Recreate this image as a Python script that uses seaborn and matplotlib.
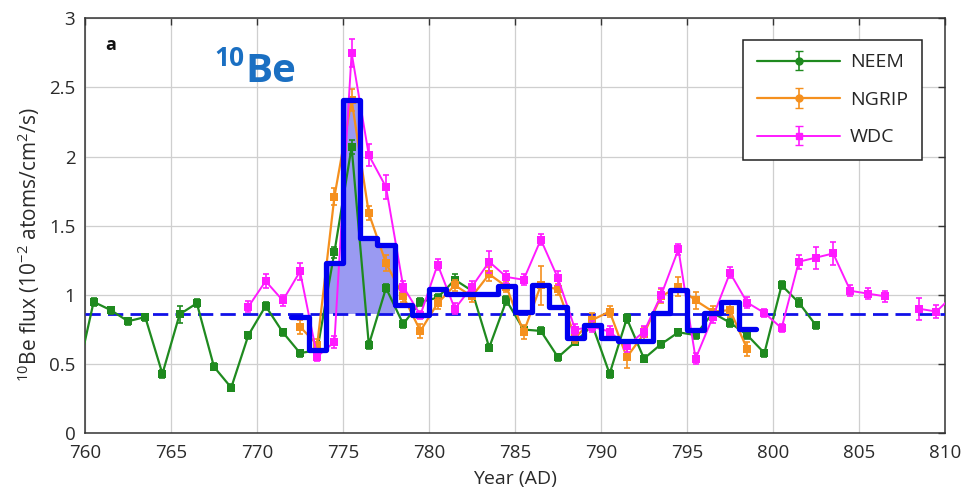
import numpy as np
import pandas as pd
import matplotlib
matplotlib.use("Agg")
import matplotlib.pyplot as plt
import seaborn as sns

# ---------------- data ----------------
neem_years = [759.5, 760.5, 761.5, 762.5, 763.5, 764.5, 765.5, 766.5, 767.5, 768.5, 769.5,
              770.5, 771.5, 772.5, 773.5, 774.5, 775.5, 776.5, 777.5, 778.5, 779.5,
              780.5, 781.5, 782.5, 783.5, 784.5, 785.5, 786.5, 787.5, 788.5, 789.5,
              790.5, 791.5, 792.5, 793.5, 794.5, 795.5, 796.5, 797.5, 798.5, 799.5,
              800.5, 801.5, 802.5]
neem_flux = [0.39, 0.95, 0.89, 0.81, 0.84, 0.43, 0.86, 0.94, 0.48, 0.33, 0.71,
             0.92, 0.73, 0.58, 0.60, 1.31, 2.07, 0.64, 1.05, 0.79, 0.95,
             0.98, 1.11, 1.03, 0.62, 0.96, 0.75, 0.74, 0.55, 0.66, 0.78,
             0.43, 0.83, 0.54, 0.645, 0.73, 0.71, 0.87, 0.80, 0.71, 0.58,
             1.07, 0.945, 0.78]
neem_err = [0.03, 0.03, 0.025, 0.025, 0.025, 0.03, 0.06, 0.03, 0.025, 0.025, 0.025,
            0.03, 0.025, 0.025, 0.025, 0.04, 0.05, 0.03, 0.03, 0.03, 0.03,
            0.03, 0.04, 0.03, 0.025, 0.03, 0.025, 0.025, 0.025, 0.025, 0.03,
            0.03, 0.03, 0.025, 0.025, 0.025, 0.025, 0.03, 0.03, 0.025, 0.025,
            0.03, 0.03, 0.025]

ngrip_years = [772.5, 773.5, 774.5, 775.5, 776.5, 777.5, 778.5, 779.5, 780.5, 781.5,
               782.5, 783.5, 784.5, 785.5, 786.5, 787.5, 788.5, 789.5, 790.5, 791.5,
               792.5, 793.5, 794.5, 795.5, 796.5, 797.5, 798.5]
ngrip_flux = [0.77, 0.64, 1.71, 2.41, 1.59, 1.23, 0.99, 0.74, 0.94, 1.07,
              0.99, 1.15, 1.06, 0.73, 1.07, 1.04, 0.69, 0.82, 0.88, 0.55,
              0.72, 0.99, 1.06, 0.96, 0.88, 0.89, 0.61]
ngrip_err = [0.05, 0.04, 0.06, 0.08, 0.05, 0.06, 0.04, 0.05, 0.04, 0.04,
             0.04, 0.05, 0.04, 0.05, 0.14, 0.04, 0.04, 0.05, 0.04, 0.08,
             0.05, 0.05, 0.07, 0.06, 0.04, 0.05, 0.05]

wdc_years = [769.5, 770.5, 771.5, 772.5, 773.5, 774.5, 775.5, 776.5, 777.5, 778.5,
             779.5, 780.5, 781.5, 782.5, 783.5, 784.5, 785.5, 786.5, 787.5, 788.5,
             789.5, 790.5, 791.5, 792.5, 793.5, 794.5, 795.5, 796.5, 797.5, 798.5,
             799.5, 800.5, 801.5, 802.5, 803.5, 804.5, 805.5, 806.5,
             808.5, 809.5, 810.5]
wdc_flux = [0.915, 1.10, 0.96, 1.17, 0.555, 0.66, 2.75, 2.01, 1.78, 1.06,
            0.855, 1.22, 0.90, 1.06, 1.24, 1.13, 1.11, 1.40, 1.12, 0.75,
            0.77, 0.735, 0.63, 0.735, 1.00, 1.33, 0.54, 0.84, 1.16, 0.945,
            0.87, 0.76, 1.24, 1.27, 1.30, 1.03, 1.01, 0.99,
            0.90, 0.88, 1.00]
wdc_err = [0.04, 0.05, 0.04, 0.06, 0.03, 0.04, 0.10, 0.08, 0.09, 0.04,
           0.03, 0.04, 0.04, 0.04, 0.08, 0.04, 0.04, 0.04, 0.05, 0.04,
           0.04, 0.04, 0.04, 0.04, 0.05, 0.04, 0.04, 0.04, 0.04, 0.04,
           0.03, 0.03, 0.05, 0.08, 0.08, 0.04, 0.04, 0.04,
           0.08, 0.05, 0.05]

step_years = [772, 773, 774, 775, 776, 777, 778, 779, 780, 781, 782, 783, 784, 785,
              786, 787, 788, 789, 790, 791, 792, 793, 794, 795, 796, 797, 798, 799]
step_flux = [0.84, 0.60, 1.23, 2.41, 1.41, 1.36, 0.93, 0.855, 1.04, 1.01, 1.01, 1.01,
             1.065, 0.88, 1.07, 0.91, 0.69, 0.78, 0.69, 0.67, 0.67, 0.87, 1.035,
             0.75, 0.87, 0.95, 0.755, 0.755]
baseline = 0.865
fill_start, fill_end = 774, 778

series_names = ["NEEM", "NGRIP", "WDC"]
series_colors = ["#1f8a1f", "#f5901e", "#ff1aff"]

FONT = ["Open Sans", "DejaVu Sans"]

sns.set_theme(style="whitegrid")
plt.rcParams["font.family"] = FONT
plt.rcParams["mathtext.fontset"] = "custom"
plt.rcParams["mathtext.rm"] = "Open Sans"
plt.rcParams["mathtext.it"] = "Open Sans:italic"
plt.rcParams["mathtext.bf"] = "Open Sans:bold"

fig = plt.figure(figsize=(9.63, 4.94), dpi=100)
ax = fig.add_axes([0.0883, 0.1229, 0.8930, 0.8401])
ax.set_facecolor("white")

# dashed baseline
ax.axhline(baseline, color="#1010e8", lw=2.0, ls=(0, (5.5, 2.6)), zorder=3)

# shaded peak area
sx = np.array(step_years, dtype=float)
sy = np.array(step_flux)
mask = (sx >= fill_start) & (sx <= fill_end)
ax.fill_between(sx, sy, baseline, where=mask, step="post", color="#9a9af2", lw=0, zorder=2)

# series
def frame(years, flux, name):
    yrs = np.array(years)
    seg = np.concatenate([[0], np.cumsum(np.diff(yrs) > 1.01)])
    return pd.DataFrame({"year": yrs, "flux": flux, "seg": seg, "series": name})

datasets = [(neem_years, neem_flux, neem_err), (ngrip_years, ngrip_flux, ngrip_err),
            (wdc_years, wdc_flux, wdc_err)]
lws = [1.6, 1.6, 1.4]
for (yrs, fl, er), name, col, lw in zip(datasets, series_names, series_colors, lws):
    df = frame(yrs, fl, name)
    sns.lineplot(data=df, x="year", y="flux", units="seg", estimator=None, sort=False,
                 color=col, lw=lw, marker="s", markersize=5.5, markeredgewidth=0,
                 ax=ax, zorder=4, legend=False)
    ax.errorbar(yrs, fl, yerr=er, fmt="none", ecolor=col, elinewidth=1.2,
                capsize=2.5, capthick=1.2, zorder=4)

# step curve
sdf = pd.DataFrame({"year": step_years, "flux": step_flux})
sns.lineplot(data=sdf, x="year", y="flux", drawstyle="steps-post", color="#0000f0",
             lw=3.8, ax=ax, zorder=5, legend=False)

# axes styling
ax.set_xlim(760, 810)
ax.set_ylim(0, 3)
ax.set_xticks(np.arange(760, 811, 5))
ax.set_yticks(np.arange(0, 3.01, 0.5))
ax.set_yticklabels(["0", "0.5", "1", "1.5", "2", "2.5", "3"])
ax.grid(True, color="#cfcfcf", lw=0.9)
for sp in ax.spines.values():
    sp.set_color("#333333")
    sp.set_linewidth(1.1)
ax.tick_params(direction="in", length=5, width=1, colors="#333333", top=True, right=True,
               labelsize=13.5, labelcolor="#2a2a2a")
ax.tick_params(axis="y", pad=7)
ax.tick_params(axis="x", pad=8)
ax.set_xlabel("Year (AD)", fontsize=14, color="#2a2a2a")
ax.xaxis.set_label_coords(0.5, -0.088)
ax.set_ylabel(r"$^{10}$Be flux (10$^{-2}$ atoms/cm$^{2}$/s)", fontsize=15, color="#2a2a2a")
ax.yaxis.set_label_coords(-0.05, 0.455)

# annotations
ax.text(761.2, 2.77, "a", fontsize=13, fontweight="bold", color="#111111",
        family=FONT, va="baseline", ha="left")
ax.text(769.3, 2.54, "Be", fontsize=29, fontweight="bold", color="#1a6fc2",
        family=FONT, va="baseline", ha="left")
ax.text(769.25, 2.655, "10", fontsize=19, fontweight="bold", color="#1a6fc2",
        family=FONT, va="baseline", ha="right")

# legend with error-bar handles
handles = []
for name, col, lw in zip(series_names, series_colors, lws):
    h = ax.errorbar([np.nan], [np.nan], yerr=[0.1], fmt="-s" if name == "WDC" else "-o",
                    color=col, lw=lw, markersize=5, elinewidth=1.2, capsize=3, label=name)
    handles.append(h)
leg = ax.legend(handles=handles, labels=series_names, loc="upper right",
                bbox_to_anchor=(0.973, 0.948), borderaxespad=0, fancybox=False,
                framealpha=1, edgecolor="#222222", handlelength=4.3, labelspacing=1.0,
                borderpad=0.7, handletextpad=0.5,
                prop={"family": FONT, "size": 14})
leg.get_frame().set_linewidth(1.1)

fig.savefig("out.png", dpi=100, facecolor="white")
